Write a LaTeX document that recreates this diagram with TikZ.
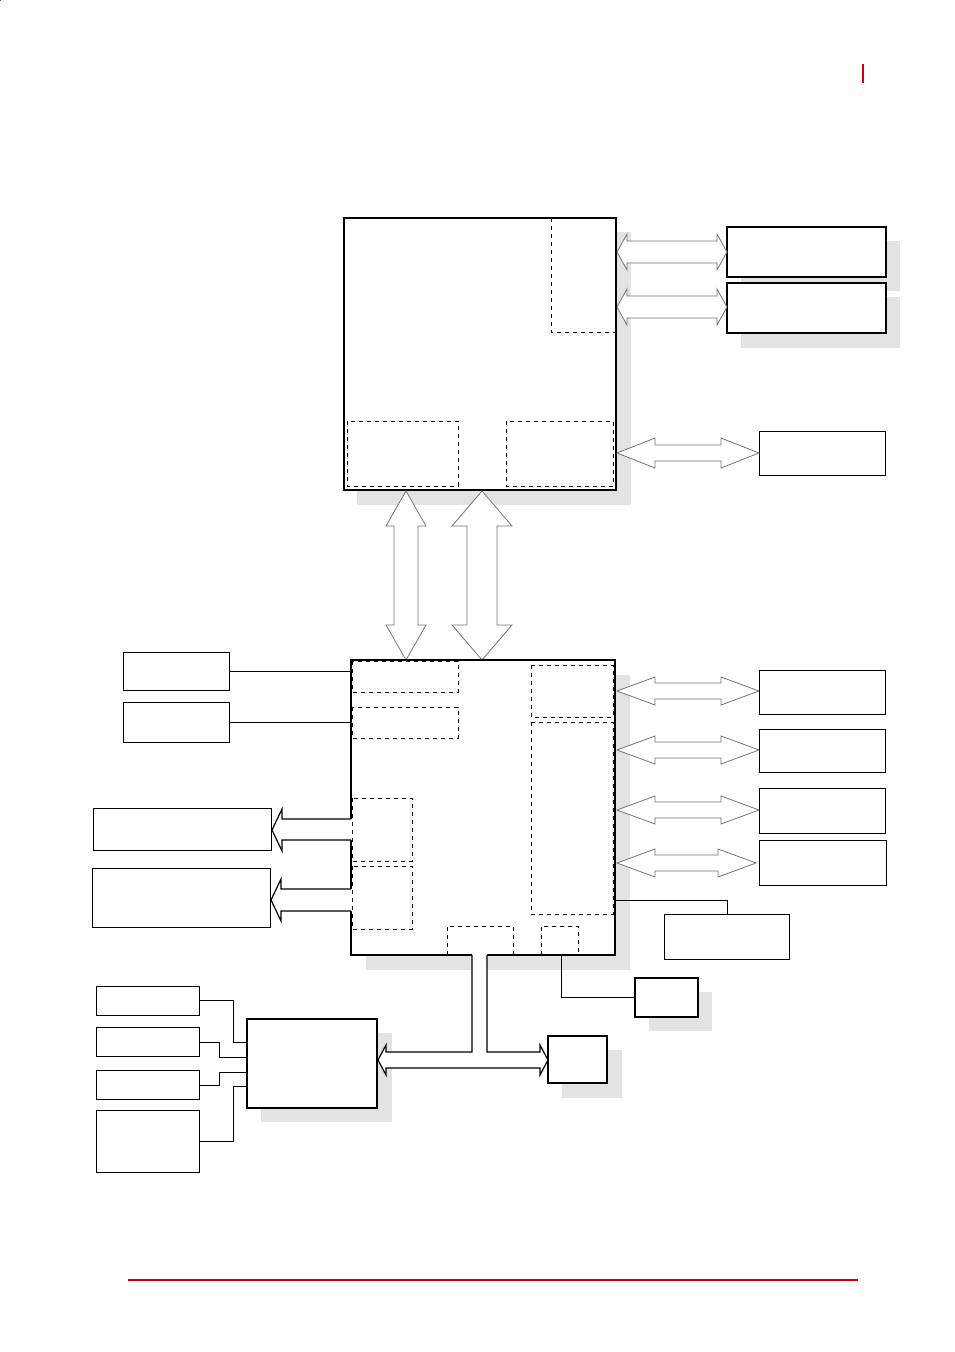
\documentclass[tikz,border=0pt]{standalone}
\begin{document}
\begin{tikzpicture}[x=0.75pt,y=-0.75pt,
  bold/.style={draw=black,line width=1.3pt,fill=white},
  thin/.style={draw=black,line width=0.7pt,fill=white},
  dbox/.style={draw=black,dashed,line width=0.6pt},
  shade/.style={fill=black!11},
  darr/.style={draw=black!55,line width=0.6pt,fill=white},
  larr/.style={draw=black,line width=0.9pt},
  lnk/.style={draw=black,line width=0.7pt}]
\useasboundingbox (0,0) rectangle (954,1352);
\newcommand\hdarr[6]{% xa xb y L H S
 \draw[darr] (#1,#3) -- ({#1+#4},{#3-#5}) -- ({#1+#4},{#3-#6}) -- ({#2-#4},{#3-#6}) -- ({#2-#4},{#3-#5}) -- (#2,#3) -- ({#2-#4},{#3+#5}) -- ({#2-#4},{#3+#6}) -- ({#1+#4},{#3+#6}) -- ({#1+#4},{#3+#5}) -- cycle;}
\newcommand\vdarr[6]{% ya yb x L H S
 \draw[darr] (#3,#1) -- ({#3-#5},{#1+#4}) -- ({#3-#6},{#1+#4}) -- ({#3-#6},{#2-#4}) -- ({#3-#5},{#2-#4}) -- (#3,#2) -- ({#3+#5},{#2-#4}) -- ({#3+#6},{#2-#4}) -- ({#3+#6},{#1+#4}) -- ({#3+#5},{#1+#4}) -- cycle;}
% red marks
\draw[red!80!black,line width=1pt] (863,64) -- (863,83);
\draw[red!80!black,line width=1.2pt] (128,1280) -- (858,1280);
% shadows
\fill[shade] (357,232) rectangle (631,505);
\fill[shade] (741,241) rectangle (900,291);
\fill[shade] (741,297) rectangle (900,348);
\fill[shade] (366,675) rectangle (630,970);
\fill[shade] (649,992) rectangle (712,1031);
\fill[shade] (562,1050) rectangle (622,1098);
\fill[shade] (261,1033) rectangle (392,1122);
% top block
\node[bold,draw,minimum width=0,inner sep=0] (cpu) at (0,0) {};
\draw[bold] (344,218) rectangle (616,490);
\draw[dbox] (551,218) -- (551,332) -- (616,332);
\draw[dbox] (347,421) rectangle (458,486);
\draw[dbox] (506,421) rectangle (613,486);
\draw[bold] (727,227) rectangle (886,277);
\draw[bold] (727,283) rectangle (886,333);
\draw[thin] (759,431) rectangle (885,475);
\hdarr{617}{727}{252}{10}{18}{11}
\hdarr{617}{727}{307}{10}{18}{11}
\hdarr{617}{759}{453}{38}{15}{8}
% vertical arrows
\vdarr{491}{660}{406}{35}{20}{12}
\vdarr{491}{660}{482}{35}{30}{15}
% block 2
\draw[bold] (351,660) rectangle (615,955);
\draw[dbox] (352,661) rectangle (458,692);
\draw[dbox] (352,707) rectangle (458,738);
\draw[dbox] (352,798) rectangle (412,861);
\draw[dbox] (352,866) rectangle (412,929);
\draw[dbox] (531,665) rectangle (613,717);
\draw[dbox] (531,722) rectangle (613,914);
\draw[dbox] (447,955) -- (447,926) -- (513,926) -- (513,955);
\draw[dbox] (541,955) -- (541,926) -- (578,926) -- (578,955);
\hdarr{617}{759}{691}{38}{14}{8}
\hdarr{617}{759}{750}{38}{14}{8}
\hdarr{617}{759}{810}{38}{14}{8}
\hdarr{617}{756}{863}{38}{14}{8}
% right boxes
\draw[thin] (759,670) rectangle (885,714);
\draw[thin] (759,729) rectangle (885,772);
\draw[thin] (759,788) rectangle (885,833);
\draw[thin] (759,840) rectangle (886,885);
\draw[thin] (664,914) rectangle (789,959);
\draw[lnk] (615,900) -- (727,900) -- (727,914);
\draw[bold] (635,978) rectangle (698,1017);
\draw[lnk] (561,955) -- (561,997) -- (635,997);
% left boxes
\draw[thin] (123,652) rectangle (229,690);
\draw[thin] (123,702) rectangle (229,742);
\draw[lnk] (229,671) -- (351,671);
\draw[lnk] (229,722) -- (351,722);
\draw[thin] (93,808) rectangle (271,850);
\draw[thin] (92,868) rectangle (270,927);
% left arrows
\fill[white] (352,819) -- (282,819) -- (282,809) -- (272,830) -- (282,851) -- (282,840) -- (352,840) -- cycle;
\draw[larr] (351,819) -- (282,819) -- (282,809) -- (272,830) -- (282,851) -- (282,840) -- (351,840);
\fill[white] (352,889) -- (281,889) -- (281,879) -- (271,900) -- (281,921) -- (281,911) -- (352,911) -- cycle;
\draw[larr] (351,889) -- (281,889) -- (281,879) -- (271,900) -- (281,921) -- (281,911) -- (351,911);
% bottom left group
\draw[bold] (247,1019) rectangle (377,1108);
\draw[thin] (96,986) rectangle (199,1015);
\draw[thin] (96,1027) rectangle (199,1056);
\draw[thin] (96,1070) rectangle (199,1099);
\draw[thin] (96,1110) rectangle (199,1172);
\draw[lnk] (199,1000) -- (233,1000) -- (233,1042) -- (247,1042);
\draw[lnk] (199,1042) -- (219,1042) -- (219,1057) -- (247,1057);
\draw[lnk] (199,1085) -- (219,1085) -- (219,1072) -- (247,1072);
\draw[lnk] (199,1141) -- (233,1141) -- (233,1086) -- (247,1086);
\draw[bold] (548,1036) rectangle (607,1083);
% bottom bus arrow
\fill[white] (472,953) -- (472,1052) -- (386,1052) -- (386,1045) -- (378,1060) -- (386,1075) -- (386,1068) -- (540,1068) -- (540,1075) -- (548,1060) -- (540,1045) -- (540,1052) -- (487,1052) -- (487,953) -- cycle;
\draw[larr] (472,955) -- (472,1052) -- (386,1052) -- (386,1045) -- (378,1060) -- (386,1075) -- (386,1068) -- (540,1068) -- (540,1075) -- (548,1060) -- (540,1045) -- (540,1052) -- (487,1052) -- (487,955);
\end{tikzpicture}
\end{document}
